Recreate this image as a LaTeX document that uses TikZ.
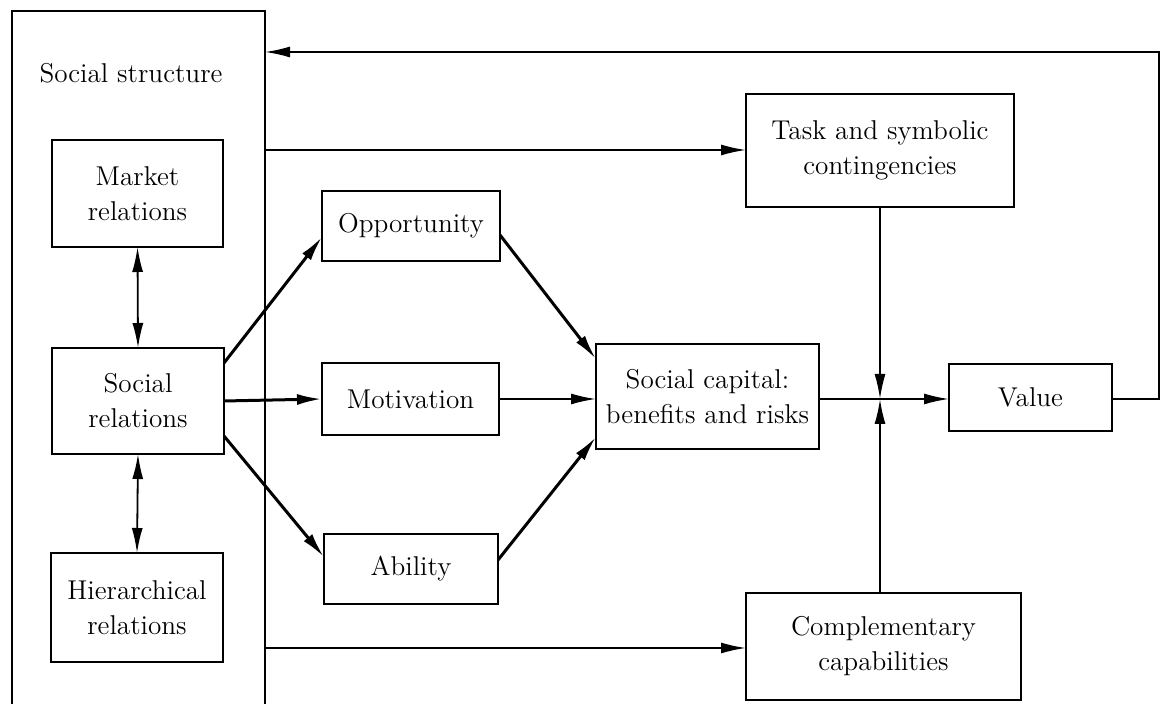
\documentclass[tikz,border=0pt]{standalone}
\usetikzlibrary{arrows.meta,calc}
\begin{document}
\begin{tikzpicture}[x=0.5pt,y=-0.5pt,
  box/.style={draw,line width=1pt,rectangle,inner sep=0pt,outer sep=0pt,align=center,
    font=\fontsize{13.6pt}{17.5pt}\selectfont},
  thin/.style={line width=0.9pt},
  thick/.style={line width=1.5pt},
  tip/.style={-{Latex[length=12.5pt,width=5.5pt]}},
  dtip/.style={{Latex[length=12.5pt,width=5.5pt]}-{Latex[length=12.5pt,width=5.5pt]}},
  lbl/.style={inner sep=0pt,font=\fontsize{13.6pt}{17.5pt}\selectfont}]
\useasboundingbox (0,0) rectangle (1169,704);
% social structure frame (open at the bottom)
\draw[line width=1pt] (12,704) -- (12,11) -- (265,11) -- (265,704);
\node[lbl] (sstext) at (131,73) {Social structure};
\coordinate (ssA) at (265,52);
\coordinate (ssB) at (265,150);
\coordinate (ssC) at (265,648);
\coordinate (fbA) at (1159,399);
\coordinate (fbB) at (1159,52);
\coordinate (junc) at (880,399);
% nodes
\node[box,minimum width=85.5pt,minimum height=53.5pt] (market) at (137.5,193.5) {Market\\relations};
\node[box,minimum width=86pt,minimum height=53pt] (socrel) at (138,401) {Social\\relations};
\node[box,minimum width=86pt,minimum height=54.5pt] (hier) at (137,607.5) {Hierarchical\\relations};
\node[box,minimum width=89pt,minimum height=35pt] (opp) at (411,226) {Opportunity};
\node[box,minimum width=88.5pt,minimum height=36pt] (mot) at (410.5,399) {Motivation};
\node[box,minimum width=87pt,minimum height=35pt] (abil) at (411,569) {Ability};
\node[box,minimum width=111.5pt,minimum height=52.5pt] (cap) at (707.5,396.5) {Social capital:\\benefits and risks};
\node[box,minimum width=134pt,minimum height=56.5pt] (task) at (880,150.5) {Task and symbolic\\contingencies};
\node[box,minimum width=137.5pt,minimum height=53.5pt] (comp) at (883.5,646.5) {Complementary\\capabilities};
\node[box,minimum width=81.5pt,minimum height=33.5pt] (value) at (1030.5,397.5) {Value};
% double arrows
\draw[thin,dtip] (market.south) -- (socrel.north);
\draw[thin,dtip] (socrel.south) -- (hier.north);
% from social relations
\draw[thick,tip] ($(socrel.north east)+(0,15)$) -- ($(opp.west)+(0,11)$);
\draw[thick,tip] (socrel.east) -- (mot.west);
\draw[thick,tip] ($(socrel.south east)+(0,-18)$) -- ($(abil.west)+(0,-12)$);
% into social capital
\draw[thick,tip] ($(opp.east)+(0,9)$) -- ($(cap.north west)+(0,15)$);
\draw[thin,tip] (mot.east) -- (cap.west |- mot.east);
\draw[thick,tip] ($(abil.east)+(0,-9)$) -- ($(cap.south west)+(0,-12)$);
% from social structure
\draw[thin,tip] (ssB) -- (task.west |- ssB);
\draw[thin,tip] (ssC) -- (comp.west |- ssC);
% contingencies / capabilities to junction
\draw[thin,tip] (task.south -| junc) -- (junc);
\draw[thin,tip] (comp.north -| junc) -- (junc);
\draw[thin,tip] (cap.east |- junc) -- (value.west |- junc);
% feedback loop
\draw[thin,tip] (value.east |- fbA) -- (fbA) -- (fbB) -- (ssA);
\end{tikzpicture}
\end{document}
